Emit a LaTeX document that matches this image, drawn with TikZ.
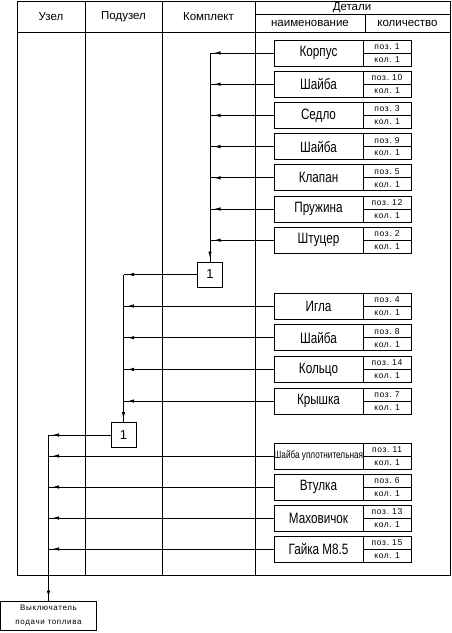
\documentclass[tikz,border=0pt]{standalone}
\usepackage{fontspec}
\setmainfont{Liberation Sans}
\newfontfamily\narrowsf[FakeStretch=0.78]{Liberation Sans}
\newfontfamily\widesf[LetterSpace=8]{Liberation Sans}
\usetikzlibrary{arrows.meta,decorations.markings}

\begin{document}
\begin{tikzpicture}[x=1pt,y=-1pt,line width=0.8pt,
  head/.style={font=\fontsize{11.5}{11.5}\selectfont},
  part/.style={draw,minimum width=89pt,minimum height=26pt,inner sep=0pt,outer sep=0pt},
  cell/.style={draw,minimum width=48pt,minimum height=13pt,inner sep=0pt,outer sep=0pt,
    font=\widesf\fontsize{8.5}{8.5}\selectfont},
  unit/.style={draw,minimum size=25pt,inner sep=0pt,outer sep=0pt,font=\fontsize{13}{13}\selectfont},
  feed/.style={postaction={decorate},decoration={markings,
    mark=at position -4pt with {\arrow{Latex[length=6.5pt,width=3.5pt]}}}}]
  \useasboundingbox (0,0) rectangle (452,633);

  % Table frame
  \draw (17,1) rectangle (450,575);
  \foreach \x in {85,162,255} \draw (\x,1) -- (\x,575);
  \draw (17,32) -- (450,32);
  \draw (255,14) -- (450,14);
  \draw (365,14) -- (365,32);

  % Headings
  \node[head] (hUzel) at (51,17) {Узел};
  \node[head] (hPodUzel) at (123.5,17) {Подузел};
  \node[head] (hKomplekt) at (208.5,17) {Комплект};
  \node[head] (hDetali) at (352,7.5) {Детали};
  \node[head] (hName) at (310,23.5) {наименование};
  \node[head] (hQty) at (407.5,23.5) {количество};

  % Units
  \node[unit] (n1) at (210,274.5) {1};
  \node[unit] (n2) at (123.5,435) {1};
  \node[draw,minimum width=96pt,minimum height=29pt,inner sep=0pt,outer sep=0pt,
    align=center,font=\widesf\fontsize{8}{14}\selectfont] (fin) at (48.5,615.5)
    {Выключатель\\подачи топлива};

  % Parts of the set
  \foreach \nm/\ps [count=\i] in {Корпус/1,Шайба/10,Седло/3,Шайба/9,Клапан/5,Пружина/12,Штуцер/2} {
    \node[part,font=\narrowsf\fontsize{15}{15}\selectfont] (a\i) at (318.5,{53+31.2*(\i-1)}) {\nm};
    \node[cell,anchor=south west] (a\i p) at (a\i.east) {поз.~\ps};
    \node[cell,anchor=north west] (a\i q) at (a\i.east) {кол.~1};
    \draw[feed] (a\i.west) -- (a\i.west -| n1);
  }
  \draw[feed] (a1.west -| n1) -- (n1.north);

  % Parts of the subunit
  \foreach \nm/\ps [count=\i] in {Игла/4,Шайба/8,Кольцо/14,Крышка/7} {
    \node[part,font=\narrowsf\fontsize{15}{15}\selectfont] (b\i) at (318.5,{306+31.7*(\i-1)}) {\nm};
    \node[cell,anchor=south west] (b\i p) at (b\i.east) {поз.~\ps};
    \node[cell,anchor=north west] (b\i q) at (b\i.east) {кол.~1};
    \draw[feed] (b\i.west) -- (b\i.west -| n2);
  }
  \draw[feed] (n1.west) -- (n1.west -| n2);
  \draw[feed] (n1.west -| n2) -- (n2.north);

  % Parts of the unit
  \foreach \nm/\ps/\fs [count=\i] in {Шайба уплотнительная/11/10.5,Втулка/6/15,Маховичок/13/15,Гайка М8.5/15/15} {
    \node[part,font=\narrowsf\fontsize{\fs}{\fs}\selectfont] (c\i) at (318.5,{456+31*(\i-1)}) {\nm};
    \node[cell,anchor=south west] (c\i p) at (c\i.east) {поз.~\ps};
    \node[cell,anchor=north west] (c\i q) at (c\i.east) {кол.~1};
    \draw[feed] (c\i.west) -- (c\i.west -| fin);
  }
  \draw[feed] (n2.west) -- (n2.west -| fin);
  \draw[feed] (n2.west -| fin) -- (fin.north);
\end{tikzpicture}
\end{document}
